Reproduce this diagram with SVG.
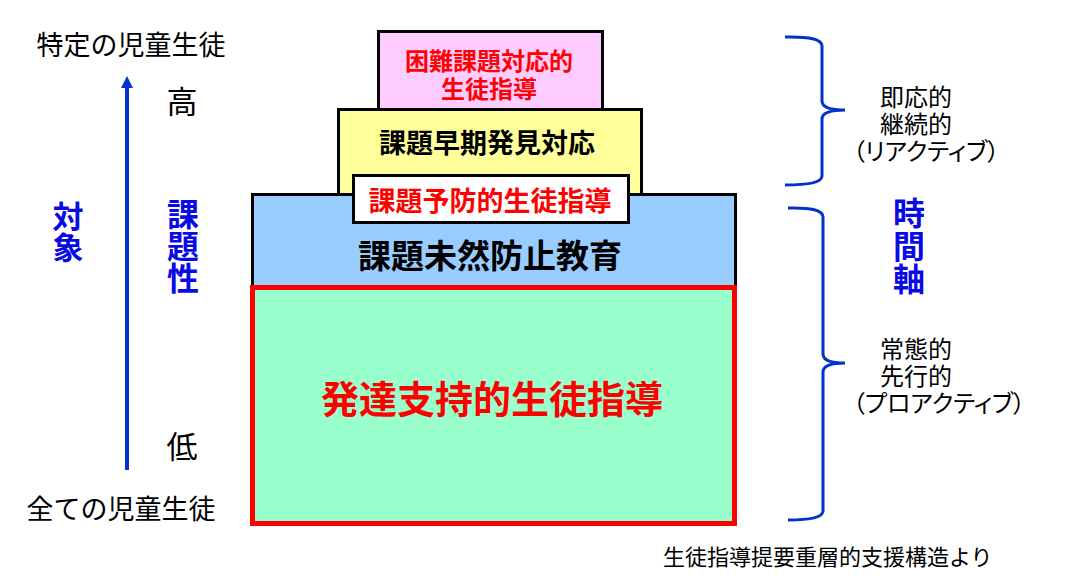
<svg xmlns="http://www.w3.org/2000/svg" width="1071" height="587" viewBox="0 0 1071 587">
<style>
text{font-family:"Noto Sans CJK JP","Noto Sans CJK SC",sans-serif;}
.box{stroke:#000;stroke-width:3;}
.red{fill:#FF0000;font-weight:bold;}
.blk{fill:#000;font-weight:bold;}
.lbl{fill:#000;}
.bl{fill:#0A0AE6;font-weight:bold;writing-mode:vertical-rl;}
.p{font-feature-settings:"palt";}
.ax{fill:none;stroke:#0033CC;stroke-width:3;}
</style>
<rect width="1071" height="587" fill="#fff"/>
<g id="pink">
<rect class="box" x="378.5" y="31.5" width="224" height="80" fill="#FFCCFF"/>
<text class="red" font-size="24" text-anchor="middle"><tspan x="489" y="70">困難課題対応的</tspan><tspan x="489" y="98">生徒指導</tspan></text>
</g>
<g id="yellow">
<rect class="box" x="338.5" y="109.5" width="303" height="90" fill="#FFFF99"/>
<text class="blk" x="487" y="153" font-size="27" text-anchor="middle">課題早期発見対応</text>
</g>
<g id="blue">
<rect class="box" x="252.5" y="194.5" width="483" height="95" fill="#99CCFF"/>
<text class="blk" x="490" y="268" font-size="33" text-anchor="middle">課題未然防止教育</text>
</g>
<g id="white">
<rect class="box" x="353.5" y="175.5" width="275" height="47" fill="#FFFFFF"/>
<text class="red" x="490" y="211" font-size="27" text-anchor="middle">課題予防的生徒指導</text>
</g>
<g id="green">
<rect x="252.5" y="287.5" width="482" height="236" fill="#99FFCC" stroke="#FF0000" stroke-width="5"/>
<text class="red" x="492" y="413" font-size="38" text-anchor="middle">発達支持的生徒指導</text>
</g>
<g id="left-labels">
<text class="lbl" x="131" y="55" font-size="27" text-anchor="middle">特定の児童生徒</text>
<text class="lbl" x="121" y="519" font-size="27" text-anchor="middle">全ての児童生徒</text>
<text class="lbl" x="182" y="113" font-size="31" text-anchor="middle">高</text>
<text class="lbl" x="182" y="458" font-size="31" text-anchor="middle">低</text>
<text class="bl" x="68" y="201" font-size="31">対象</text>
<text class="bl" x="183" y="198" font-size="32">課題性</text>
</g>
<g id="right-labels">
<text class="lbl" font-size="24"><tspan x="880" y="106">即応的</tspan><tspan x="880" y="133">継続的</tspan><tspan class="p" x="853" y="160">（リアクティブ）</tspan></text>
<text class="bl" x="909" y="197" font-size="32" letter-spacing="1">時間軸</text>
<text class="lbl" font-size="24"><tspan x="880" y="358">常態的</tspan><tspan x="880" y="385">先行的</tspan><tspan class="p" x="853" y="412">（プロアクティブ）</tspan></text>
<text class="lbl" x="663" y="565" font-size="22">生徒指導提要重層的支援構造より</text>
</g>
<g id="connectors">
<line x1="127" y1="470" x2="127" y2="86" stroke="#0033CC" stroke-width="4"/>
<path d="M121,88 L127,76 L133,88 Z" fill="#0033CC"/>
<path class="ax" d="M785,37 Q822,36 822,46 L822,101 Q822,110 845,110 Q822,110 822,119 L822,176 Q822,185 785,185"/>
<path class="ax" d="M788,208 Q823,207 823,217 L823,354 Q823,363 845,363 Q823,363 823,372 L823,511 Q823,520 788,520"/>
</g>
</svg>
